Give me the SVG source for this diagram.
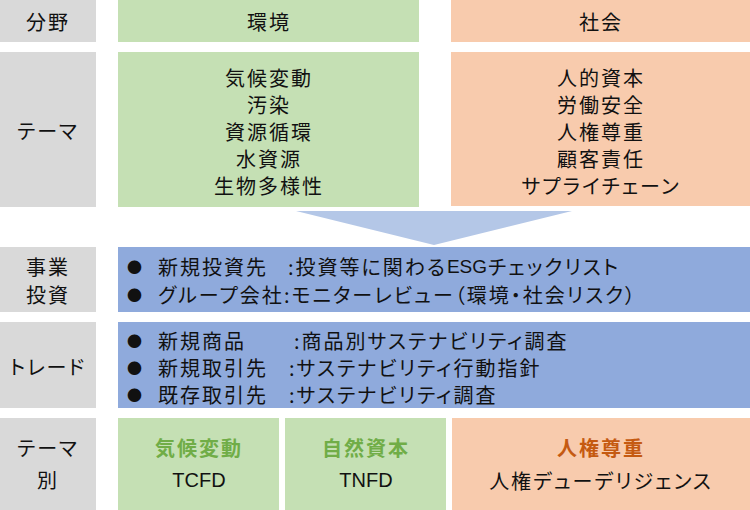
<svg xmlns="http://www.w3.org/2000/svg" width="750" height="510" viewBox="0 0 750 510">
<style>
text{font-family:"Noto Sans CJK JP","Noto Sans",sans-serif;font-size:20px;letter-spacing:2px;font-feature-settings:"palt";fill:#111;dominant-baseline:central}
.c{text-anchor:middle}
.g{fill:#D9D9D9}
.gr{fill:#C5E0B4}
.or{fill:#F8CBAD}
.bl{fill:#8FAADC}
.bg{font-weight:bold;fill:#70AD47}
.bo{font-weight:bold;fill:#C55A11}
.bu{font-size:15px;letter-spacing:0}
.lat{font-family:"Liberation Sans",Arial,sans-serif;letter-spacing:0}
</style>
<g id="labels">
<rect class="g" x="0" y="0" width="96" height="42"/>
<text class="c" x="48" y="21">分野</text>
<rect class="g" x="0" y="52" width="96" height="155"/>
<text class="c" x="48" y="130">テーマ</text>
<rect class="g" x="0" y="247" width="96" height="65"/>
<text class="c" x="48" y="266">事業</text>
<text class="c" x="48" y="294">投資</text>
<rect class="g" x="0" y="322" width="96" height="86"/>
<text class="c" x="48" y="366">トレード</text>
<rect class="g" x="0" y="418" width="96" height="92"/>
<text class="c" x="48" y="447">テーマ</text>
<text class="c" x="48" y="479">別</text>
</g>
<g id="env">
<rect class="gr" x="118" y="0" width="301" height="42"/>
<text class="c" x="269" y="21">環境</text>
<rect class="gr" x="118" y="52" width="301" height="155"/>
<text class="c" x="269" y="77">気候変動</text>
<text class="c" x="269" y="104">汚染</text>
<text class="c" x="269" y="131">資源循環</text>
<text class="c" x="269" y="158">水資源</text>
<text class="c" x="269" y="185">生物多様性</text>
</g>
<g id="soc">
<rect class="or" x="451" y="0" width="299" height="42"/>
<text class="c" x="601" y="21">社会</text>
<rect class="or" x="451" y="52" width="299" height="154"/>
<text class="c" x="601" y="77">人的資本</text>
<text class="c" x="601" y="104">労働安全</text>
<text class="c" x="601" y="131">人権尊重</text>
<text class="c" x="601" y="158">顧客責任</text>
<text class="c" x="601" y="185">サプライチェーン</text>
</g>
<g id="connectors">
<polygon points="296,211 572,211 434,245" fill="#B4C7E7"/>
</g>
<g id="invest">
<rect class="bl" x="118" y="247" width="632" height="65"/>
<text class="bu" x="127" y="266">●</text>
<text x="158" y="266">新規投資先</text>
<text x="288" y="266">:投資等に関わる<tspan class="lat" font-size="19">ESG</tspan><tspan dx="1">チェックリスト</tspan></text>
<text class="bu" x="127" y="294">●</text>
<text x="158" y="294">グループ会社</text>
<text x="284" y="294">:モニターレビュー（環境・社会リスク）</text>
</g>
<g id="trade">
<rect class="bl" x="118" y="322" width="632" height="86"/>
<text class="bu" x="127" y="340">●</text>
<text x="158" y="340">新規商品</text>
<text x="294" y="340">:商品別サステナビリティ調査</text>
<text class="bu" x="127" y="367">●</text>
<text x="158" y="367">新規取引先</text>
<text x="289" y="367">:サステナビリティ行動指針</text>
<text class="bu" x="127" y="394">●</text>
<text x="158" y="394">既存取引先</text>
<text x="289" y="394">:サステナビリティ調査</text>
</g>
<g id="tcfd">
<rect class="gr" x="118" y="418" width="161" height="92"/>
<text class="c bg" x="199" y="447">気候変動</text>
<text class="c lat" x="199" y="480" font-size="21">TCFD</text>
</g>
<g id="tnfd">
<rect class="gr" x="285" y="418" width="161" height="92"/>
<text class="c bg" x="366" y="447">自然資本</text>
<text class="c lat" x="366" y="480" font-size="21">TNFD</text>
</g>
<g id="hr">
<rect class="or" x="452" y="418" width="298" height="92"/>
<text class="c bo" x="601" y="447">人権尊重</text>
<text class="c" x="601" y="480">人権デューデリジェンス</text>
</g>
</svg>
